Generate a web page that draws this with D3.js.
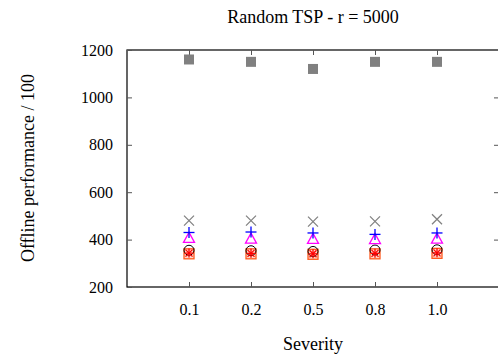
<html><head><script src="https://d3js.org/d3.v7.min.js"></script></head>
<body style="margin:0">
<script>
    // data
    var severities = ["0.1", "0.2", "0.5", "0.8", "1.0"];
    var yTicks = [200, 400, 600, 800, 1000, 1200];

    var graySquare = [1160, 1150, 1120, 1150, 1150];
    var grayCross  = [480, 480, 476, 477, 486];
    var bluePlus   = [430, 432, 428, 422, 428];
    var magTri     = [405, 402, 401, 400, 402];
    var blackCirc  = [355, 353, 350, 356, 357];
    var redSquare  = [340, 340, 338, 340, 342];
    var redStar    = [343, 342, 340, 342, 344];

    var width = 498, height = 358;
    var plotL = 127, plotR = 499, plotT = 50, plotB = 287;
    var serif = "Liberation Serif";

    var svg = d3.select("body").append("svg")
        .attr("width", width)
        .attr("height", height);

    svg.append("rect")
        .attr("width", width).attr("height", height)
        .attr("fill", "#fff");

    var x = d3.scaleLinear().domain([0, 6]).range([plotL, plotR]);
    var y = d3.scaleLinear().domain([200, 1200]).range([plotB, plotT]);

    // frame
    svg.append("rect")
        .attr("x", plotL).attr("y", plotT)
        .attr("width", plotR - plotL).attr("height", plotB - plotT)
        .attr("fill", "none").attr("stroke", "#000").attr("stroke-width", 1.2);

    // y axis (left + mirrored right ticks)
    svg.append("g")
        .attr("transform", "translate(" + plotL + ",0)")
        .call(d3.axisLeft(y).tickValues(yTicks).tickSizeInner(-5).tickSizeOuter(0).tickPadding(14)
            .tickFormat(d3.format("d")))
        .call(function (g) {
            g.attr("font-family", null).attr("font-size", null);
            g.select(".domain").remove();
            g.selectAll("line").attr("stroke", "#555");
            g.selectAll("text").style("font-family", serif).attr("font-size", 16)
                .attr("fill", "#000");
        });

    svg.append("g")
        .attr("transform", "translate(" + plotR + ",0)")
        .call(d3.axisRight(y).tickValues(yTicks.slice(1, -1)).tickSizeInner(-5).tickSizeOuter(0).tickFormat(""))
        .call(function (g) {
            g.select(".domain").remove();
            g.selectAll("line").attr("stroke", "#555");
        });

    // x axis (bottom + mirrored top ticks)
    var xTickVals = severities.map(function (d, i) { return i + 1; });
    svg.append("g")
        .attr("transform", "translate(0," + plotB + ")")
        .call(d3.axisBottom(x).tickValues(xTickVals).tickSizeInner(-5).tickSizeOuter(0).tickPadding(17)
            .tickFormat(function (d) { return severities[d - 1]; }))
        .call(function (g) {
            g.attr("font-family", null).attr("font-size", null);
            g.select(".domain").remove();
            g.selectAll("line").attr("stroke", "#555");
            g.selectAll("text").style("font-family", serif).attr("font-size", 16)
                .attr("fill", "#000");
        });

    svg.append("g")
        .attr("transform", "translate(0," + plotT + ")")
        .call(d3.axisTop(x).tickValues(xTickVals).tickSizeInner(-5).tickSizeOuter(0).tickFormat(""))
        .call(function (g) {
            g.select(".domain").remove();
            g.selectAll("line").attr("stroke", "#555");
        });

    // titles
    svg.append("text")
        .attr("x", 313).attr("y", 23)
        .attr("text-anchor", "middle")
        .style("font-family", serif).attr("font-size", 18)
        .text("Random TSP - r = 5000");

    svg.append("text")
        .attr("x", 313).attr("y", 350)
        .attr("text-anchor", "middle")
        .style("font-family", serif).attr("font-size", 18)
        .text("Severity");

    svg.append("text")
        .attr("transform", "translate(34,168) rotate(-90)")
        .attr("text-anchor", "middle")
        .style("font-family", serif).attr("font-size", 18)
        .text("Offline performance / 100");

    // markers
    function pts(vals) {
        return vals.map(function (v, i) { return { cx: x(i + 1), cy: y(v) }; });
    }

    var s = 5;

    // red open squares
    svg.append("g").selectAll("rect").data(pts(redSquare)).join("rect")
        .attr("x", function (d) { return d.cx - s; })
        .attr("y", function (d) { return d.cy - s; })
        .attr("width", 2 * s).attr("height", 2 * s)
        .attr("fill", "#ffb090").attr("fill-opacity", 0.5)
        .attr("stroke", "#ff5a1e").attr("stroke-width", 1.3);

    // black open circles
    svg.append("g").selectAll("circle").data(pts(blackCirc)).join("circle")
        .attr("cx", function (d) { return d.cx; })
        .attr("cy", function (d) { return d.cy; })
        .attr("r", 5)
        .attr("fill", "none")
        .attr("stroke", "#000").attr("stroke-width", 1);

    // red asterisks
    var star = svg.append("g").attr("stroke", "#f00").attr("stroke-width", 1.3);
    pts(redStar).forEach(function (d) {
        [[0, -4.5, 0, 4.5], [-4.5, 0, 4.5, 0], [-3.5, -3.5, 3.5, 3.5], [-3.5, 3.5, 3.5, -3.5]].forEach(function (l) {
            star.append("line")
                .attr("x1", d.cx + l[0]).attr("y1", d.cy + l[1])
                .attr("x2", d.cx + l[2]).attr("y2", d.cy + l[3]);
        });
    });

    // magenta open triangles
    svg.append("g").selectAll("path").data(pts(magTri)).join("path")
        .attr("d", function (d) {
            return "M" + d.cx + "," + (d.cy - 6) + "L" + (d.cx + 5.5) + "," + (d.cy + 4) +
                "L" + (d.cx - 5.5) + "," + (d.cy + 4) + "Z";
        })
        .attr("fill", "none")
        .attr("stroke", "#f0f").attr("stroke-width", 1.3);

    // blue plus
    var plus = svg.append("g").attr("stroke", "#00f").attr("stroke-width", 1.3);
    pts(bluePlus).forEach(function (d) {
        plus.append("line").attr("x1", d.cx - 5.5).attr("x2", d.cx + 5.5)
            .attr("y1", d.cy).attr("y2", d.cy);
        plus.append("line").attr("x1", d.cx).attr("x2", d.cx)
            .attr("y1", d.cy - 5.5).attr("y2", d.cy + 5.5);
    });

    // gray crosses
    var cross = svg.append("g").attr("stroke", "#808080").attr("stroke-width", 1.3);
    pts(grayCross).forEach(function (d) {
        cross.append("line").attr("x1", d.cx - 5).attr("y1", d.cy - 5)
            .attr("x2", d.cx + 5).attr("y2", d.cy + 5);
        cross.append("line").attr("x1", d.cx - 5).attr("y1", d.cy + 5)
            .attr("x2", d.cx + 5).attr("y2", d.cy - 5);
    });

    // gray filled squares
    svg.append("g").selectAll("rect").data(pts(graySquare)).join("rect")
        .attr("x", function (d) { return d.cx - 5; })
        .attr("y", function (d) { return d.cy - 5; })
        .attr("width", 10).attr("height", 10)
        .attr("fill", "#808080");
</script>
</body>
</html>
